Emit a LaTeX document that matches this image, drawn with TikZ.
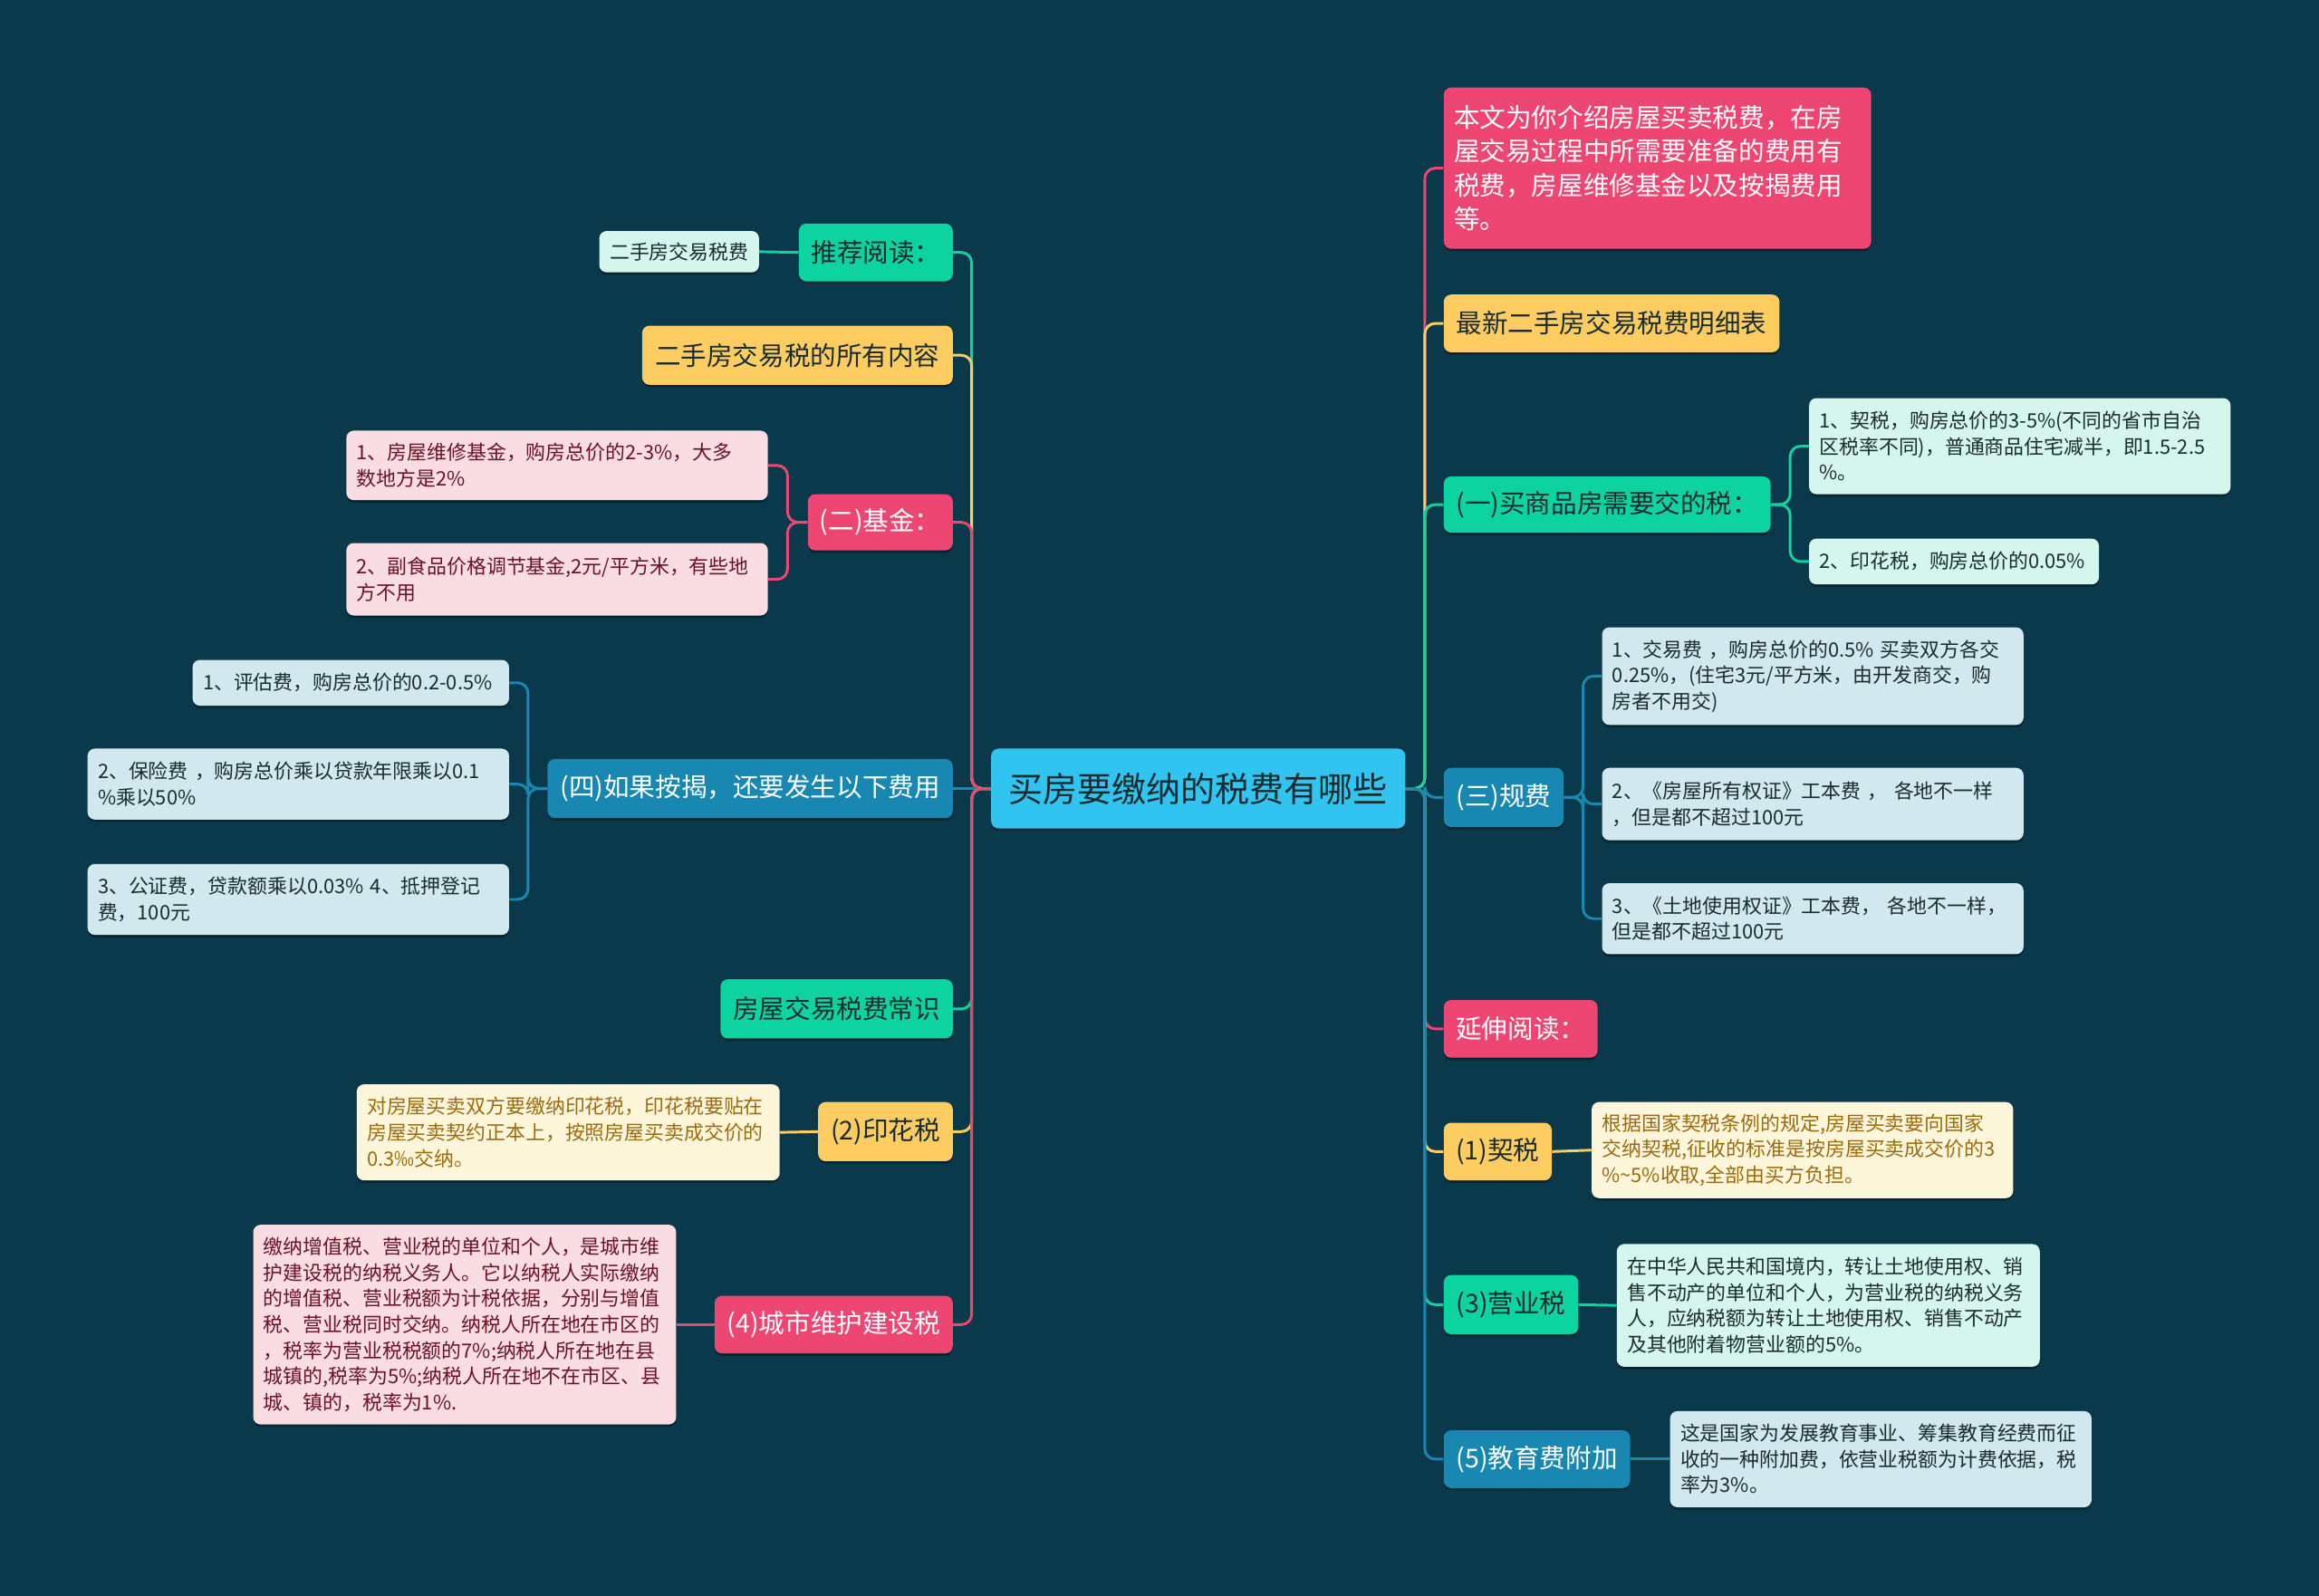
\documentclass[tikz,border=0pt]{standalone}
\usepackage{fontspec}
\setmainfont{Noto Sans CJK SC}
\usetikzlibrary{shadows}
\definecolor{bgc}{HTML}{0A394C}
\definecolor{cgreen}{HTML}{0DD3A0}
\definecolor{cyellow}{HTML}{FDCD62}
\definecolor{cpink}{HTML}{EE4672}
\definecolor{cblue}{HTML}{1888B3}
\definecolor{croot}{HTML}{31C4F1}
\definecolor{lmint}{HTML}{D4F6EC}
\definecolor{lcream}{HTML}{FDF6DB}
\definecolor{lpink}{HTML}{FADCE3}
\definecolor{lblue}{HTML}{D1E8EF}
\definecolor{tdark}{HTML}{1B2C30}
\definecolor{tbrown}{HTML}{9B6B0E}
\definecolor{tred}{HTML}{6B1325}
\pgfdeclarelayer{backest}
\pgfdeclarelayer{back}
\pgfsetlayers{backest,back,main}
\tikzset{
  box/.style={rounded corners=5pt, anchor=north west, inner ysep=0pt, inner xsep=7pt,
    drop shadow={shadow xshift=0pt,shadow yshift=-1.6pt,fill=black,opacity=0.35}},
  bfont/.style={font=\fontsize{17.5}{23}\selectfont},
  cfont/.style={font=\fontsize{13.4}{17.5}\selectfont},
  gbr/.style={box,bfont,fill=cgreen,text=tdark},
  ybr/.style={box,bfont,fill=cyellow,text=tdark},
  pbr/.style={box,bfont,fill=cpink,text=white},
  bbr/.style={box,bfont,fill=cblue,text=white},
  gch/.style={box,cfont,fill=lmint,text=tdark,align=left},
  ych/.style={box,cfont,fill=lcream,text=tbrown,align=left},
  pch/.style={box,cfont,fill=lpink,text=tred,align=left},
  bch/.style={box,cfont,fill=lblue,text=tdark,align=left},
  conn/.style={draw=#1,line width=1.8pt,rounded corners=7pt}
}
\begin{document}
\begin{tikzpicture}[x=1pt,y=-1pt]
\begin{pgfonlayer}{backest}
\fill[bgc] (0,0) rectangle (1568,1079);
\end{pgfonlayer}
\useasboundingbox (0,0) rectangle (1568,1079);

% root
\node[box,fill=croot,text=tdark,font=\fontsize{23.3}{26}\selectfont,minimum width=280pt,minimum height=54pt] (R) at (670,506) {买房要缴纳的税费有哪些};

% left branches
\node[gbr,minimum width=104pt,minimum height=39pt] (A1) at (540,151) {推荐阅读：};
\node[gch,minimum width=108pt,minimum height=28pt] (A1c) at (405,156) {二手房交易税费};
\node[ybr,minimum width=210pt,minimum height=40pt] (A2) at (434,220) {二手房交易税的所有内容};
\node[pbr,minimum width=98pt,minimum height=38pt] (A3) at (546,334) {(二)基金：};
\node[pch,text width=271pt,minimum height=47pt] (A3a) at (234,291) {1、房屋维修基金，购房总价的2-3\%，大多\\数地方是2\%};
\node[pch,text width=271pt,minimum height=49pt] (A3b) at (234,367) {2、副食品价格调节基金,2元/平方米，有些地\\方不用};
\node[bbr,minimum width=274pt,minimum height=40pt] (A4) at (370,513) {(四)如果按揭，还要发生以下费用};
\node[bch,text width=200pt,minimum height=31pt] (A4a) at (130,446) {1、评估费，购房总价的0.2-0.5\%};
\node[bch,text width=271pt,minimum height=48pt] (A4b) at (59,506) {2、保险费 ，购房总价乘以贷款年限乘以0.1\\\%乘以50\%};
\node[bch,text width=271pt,minimum height=48pt] (A4c) at (59,584) {3、公证费，贷款额乘以0.03\% 4、抵押登记\\费，100元};
\node[gbr,minimum width=157pt,minimum height=40pt] (A5) at (487,662) {房屋交易税费常识};
\node[ybr,minimum width=91pt,minimum height=40pt] (A6) at (553,745) {(2)印花税};
\node[ych,text width=272pt,minimum height=65pt] (A6a) at (241,733) {对房屋买卖双方要缴纳印花税，印花税要贴在\\房屋买卖契约正本上，按照房屋买卖成交价的\\0.3‰交纳。};
\node[pbr,minimum width=161pt,minimum height=39pt] (A7) at (483,876) {(4)城市维护建设税};
\node[pch,text width=272pt,minimum height=135pt] (A7a) at (171,828) {缴纳增值税、营业税的单位和个人，是城市维\\护建设税的纳税义务人。它以纳税人实际缴纳\\的增值税、营业税额为计税依据，分别与增值\\税、营业税同时交纳。纳税人所在地在市区的\\，税率为营业税税额的7\%;纳税人所在地在县\\城镇的,税率为5\%;纳税人所在地不在市区、县\\城、镇的，税率为1\%.};

% right branches
\node[pbr,align=left,text width=275pt,minimum height=109pt] (B1) at (976,59) {本文为你介绍房屋买卖税费，在房\\屋交易过程中所需要准备的费用有\\税费，房屋维修基金以及按揭费用\\等。};
\node[ybr,minimum width=227pt,minimum height=39pt] (B2) at (976,199) {最新二手房交易税费明细表};
\node[gbr,minimum width=221pt,minimum height=38pt] (B3) at (976,322) {(一)买商品房需要交的税：};
\node[gch,text width=271pt,minimum height=65pt] (B3a) at (1223,269) {1、契税，购房总价的3-5\%(不同的省市自治\\区税率不同)，普通商品住宅减半，即1.5-2.5\\\%。};
\node[gch,text width=182pt,minimum height=31pt] (B3b) at (1223,364) {2、印花税，购房总价的0.05\%};
\node[bbr,minimum width=81pt,minimum height=40pt] (B4) at (976,519) {(三)规费};
\node[bch,text width=271pt,minimum height=66pt] (B4a) at (1083,424) {1、交易费 ，购房总价的0.5\% 买卖双方各交\\0.25\%，(住宅3元/平方米，由开发商交，购\\房者不用交)};
\node[bch,text width=271pt,minimum height=49pt] (B4b) at (1083,519) {2、《房屋所有权证》工本费 ， 各地不一样\\，但是都不超过100元};
\node[bch,text width=271pt,minimum height=48pt] (B4c) at (1083,597) {3、《土地使用权证》工本费， 各地不一样，\\但是都不超过100元};
\node[pbr,minimum width=104pt,minimum height=39pt] (B5) at (976,676) {延伸阅读：};
\node[ybr,minimum width=73pt,minimum height=39pt] (B6) at (976,759) {(1)契税};
\node[ych,text width=271pt,minimum height=65pt] (B6a) at (1076,745) {根据国家契税条例的规定,房屋买卖要向国家\\交纳契税,征收的标准是按房屋买卖成交价的3\\\%\textasciitilde 5\%收取,全部由买方负担。};
\node[gbr,minimum width=91pt,minimum height=40pt] (B7) at (976,862) {(3)营业税};
\node[gch,text width=272pt,minimum height=83pt] (B7a) at (1093,841) {在中华人民共和国境内，转让土地使用权、销\\售不动产的单位和个人，为营业税的纳税义务\\人，应纳税额为转让土地使用权、销售不动产\\及其他附着物营业额的5\%。};
\node[bbr,minimum width=126pt,minimum height=39pt] (B8) at (976,967) {(5)教育费附加};
\node[bch,text width=271pt,minimum height=65pt] (B8a) at (1129,954) {这是国家为发展教育事业、筹集教育经费而征\\收的一种附加费，依营业税额为计费依据，税\\率为3\%。};

\begin{pgfonlayer}{back}
% left main connectors
\draw[conn=cgreen] (R.west) -- ++(-13,0) |- (A1.east);
\draw[conn=cyellow] (R.west) -- ++(-13,0) |- (A2.east);
\draw[conn=cpink] (R.west) -- ++(-13,0) |- (A3.east);
\draw[conn=cblue] (R.west) -- (A4.east);
\draw[conn=cgreen] (R.west) -- ++(-13,0) |- (A5.east);
\draw[conn=cyellow] (R.west) -- ++(-13,0) |- (A6.east);
\draw[conn=cpink] (R.west) -- ++(-13,0) |- (A7.east);
% right main connectors
\draw[conn=cpink] (R.east) -- ++(13,0) |- (B1.west);
\draw[conn=cyellow] (R.east) -- ++(13,0) |- (B2.west);
\draw[conn=cgreen] (R.east) -- ++(13,0) |- (B3.west);
\draw[conn=cblue] (R.east) -- ++(13,0) |- (B4.west);
\draw[conn=cpink] (R.east) -- ++(13,0) |- (B5.west);
\draw[conn=cyellow] (R.east) -- ++(13,0) |- (B6.west);
\draw[conn=cgreen] (R.east) -- ++(13,0) |- (B7.west);
\draw[conn=cblue] (R.east) -- ++(13,0) |- (B8.west);
% child connectors
\draw[conn=cgreen] (A1.west) -- (A1c.east);
\draw[conn=cpink] (A3.west) -- ++(-13.5,0) |- (A3a.east);
\draw[conn=cpink] (A3.west) -- ++(-13.5,0) |- (A3b.east);
\draw[conn=cblue] (A4.west) -- ++(-13,0) |- (A4a.east);
\draw[conn=cblue] (A4.west) -- ++(-13,0) |- (A4b.east);
\draw[conn=cblue] (A4.west) -- ++(-13,0) |- (A4c.east);
\draw[conn=cyellow] (A6.west) -- (A6a.east);
\draw[conn=cpink] (A7.west) -- (A7a.east);
\draw[conn=cgreen] (B3.east) -- ++(13,0) |- (B3a.west);
\draw[conn=cgreen] (B3.east) -- ++(13,0) |- (B3b.west);
\draw[conn=cblue] (B4.east) -- ++(13,0) |- (B4a.west);
\draw[conn=cblue] (B4.east) -- ++(13,0) |- (B4b.west);
\draw[conn=cblue] (B4.east) -- ++(13,0) |- (B4c.west);
\draw[conn=cyellow] (B6.east) -- (B6a.west);
\draw[conn=cgreen] (B7.east) -- (B7a.west);
\draw[conn=cblue] (B8.east) -- (B8a.west);
\end{pgfonlayer}
\end{tikzpicture}
\end{document}
